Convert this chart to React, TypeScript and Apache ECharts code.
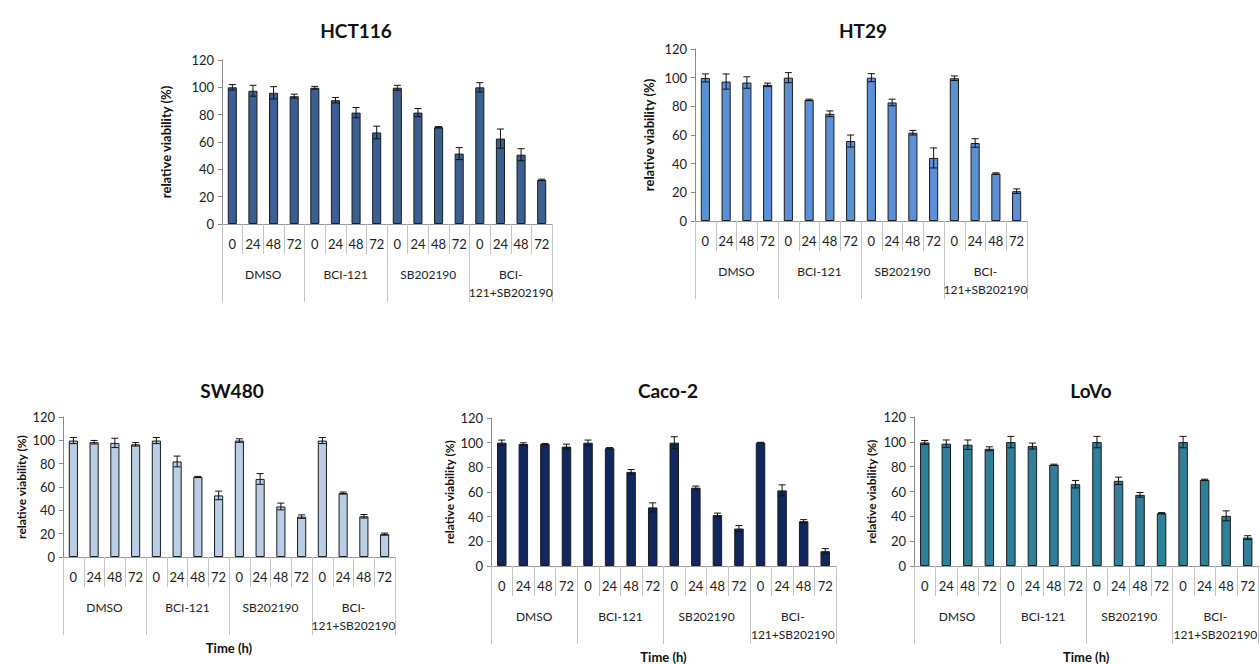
import React, { useEffect, useRef } from "react";
import * as echarts from "echarts";

const timeLabels = ["0", "24", "48", "72"];
const groupLabels = ["DMSO", "BCI-121", "SB202190", "BCI-\n121+SB202190"];
const yTicks = { min: 0, max: 120, interval: 20 };

const panelTitles = ["HCT116", "HT29", "SW480", "Caco-2", "LoVo"];
const panelColors = ["#3b5f90", "#5b8fd6", "#b9cde5", "#10275e", "#2f7f98"];

const hct116Values = [100, 97.5, 96, 93.5, 99.7, 90.6, 81.5, 67, 99.7, 81.5, 70.8, 51.5, 100, 62.5, 50.7, 32.3];
const hct116Errors = [2, 4, 4.5, 1.5, 1, 2, 3.7, 4.6, 1.8, 3, 0.5, 4.4, 3.4, 7, 4.4, 0.5];
const ht29Values = [99.8, 97.3, 96.6, 95, 100, 84.5, 74.8, 55.8, 100, 82.7, 61.6, 44, 99.6, 54.4, 33.1, 20.8];
const ht29Errors = [2.8, 5.3, 4, 1.2, 3.5, 0.5, 2, 4.2, 2.8, 2.3, 1.6, 7, 1.6, 3, 0.5, 1.6];
const sw480Values = [99.8, 98.4, 97.8, 96.6, 99.8, 81.9, 68.6, 52.8, 99.8, 66.9, 43.3, 34.6, 99.8, 54.8, 34.9, 19.6];
const sw480Errors = [2.6, 1.5, 4, 1.5, 2.6, 4.6, 0.5, 3.7, 1.5, 4.6, 2.9, 1.5, 2.6, 0.9, 1.5, 0.9];
const caco2Values = [100, 98.9, 98.9, 96.8, 100, 95.5, 76.3, 47.5, 100, 63.5, 41.3, 30.4, 100, 61.3, 36.3, 12];
const caco2Errors = [2.1, 1, 0.5, 2, 2.1, 0.5, 1.9, 3.7, 4.8, 1.3, 1.6, 2.4, 0.3, 4.5, 1.3, 2.1];
const lovoValues = [99.5, 98.5, 97.7, 94.4, 99.8, 96.6, 81.5, 65.9, 99.8, 68.6, 57.3, 42.5, 99.8, 69.4, 40.4, 22.9];
const lovoErrors = [1.6, 3, 3.8, 1.6, 4.6, 2.4, 0.5, 3, 4.6, 3, 1.9, 0.5, 4.6, 0.5, 4, 1.5];

const allValues = [hct116Values, ht29Values, sw480Values, caco2Values, lovoValues];
const allErrors = [hct116Errors, ht29Errors, sw480Errors, caco2Errors, lovoErrors];

// layout (pixels)
const grids = [
  { left: 222, top: 60, width: 330, height: 164 },
  { left: 695, top: 49, width: 332, height: 172 },
  { left: 63, top: 417, width: 332, height: 140 },
  { left: 491, top: 418, width: 345, height: 150 },
  { left: 914, top: 417, width: 347, height: 149 },
];
const titlePos = [
  [351, 16],
  [858, 16],
  [227, 376],
  [663, 376],
  [1086, 376],
];
const yNameGap = [50, 40, 36, 36, 37];
const yNameSize = [13, 13, 12, 12, 12];
const showTimeName = [false, false, true, true, true];

const FONT = "Lato, 'Open Sans', sans-serif";

export default function App() {
  const ref = useRef<HTMLDivElement>(null);

  useEffect(() => {
    if (!ref.current) return;
    const chart = echarts.init(ref.current, undefined, { renderer: "svg" });
    const categories: string[] = [];
    groupLabels.forEach(() => timeLabels.forEach((t) => categories.push(t)));

    const xAxes: any[] = [];
    const yAxes: any[] = [];
    const series: any[] = [];
    const titles: any[] = [];

    grids.forEach((g, i) => {
      titles.push({
        text: panelTitles[i],
        left: titlePos[i][0],
        top: titlePos[i][1],
        textAlign: "center",
        textStyle: { fontFamily: FONT, fontWeight: "bold", fontSize: 19, color: "#111" },
      });
      xAxes.push({
        type: "category",
        gridIndex: i,
        data: categories,
        position: "bottom",
        axisLine: { show: true, lineStyle: { color: "#9a9a9a", width: 1 } },
        axisTick: { show: true, length: 30, interval: 0, lineStyle: { color: "#c4c4c4" } },
        axisLabel: { interval: 0, margin: 13, fontFamily: FONT, fontSize: 13, color: "#222" },
      });
      xAxes.push({
        type: "category",
        gridIndex: i,
        data: groupLabels,
        position: "bottom",
        axisLine: { show: false },
        axisTick: { show: true, length: 78, interval: 0, lineStyle: { color: "#c4c4c4" } },
        axisLabel: {
          interval: 0,
          margin: 41,
          fontFamily: FONT,
          fontSize: 12,
          lineHeight: 18,
          color: "#222",
        },
        name: showTimeName[i] ? "Time (h)" : "",
        nameLocation: "middle",
        nameGap: 84,
        nameTextStyle: { fontFamily: FONT, fontWeight: "bold", fontSize: 13, color: "#111" },
      });
      yAxes.push({
        type: "value",
        gridIndex: i,
        min: yTicks.min,
        max: yTicks.max,
        interval: yTicks.interval,
        axisLine: { show: true, lineStyle: { color: "#8a8a8a", width: 1 } },
        axisTick: { show: true, length: 4, lineStyle: { color: "#8a8a8a" } },
        splitLine: { show: false },
        axisLabel: { margin: 8, fontFamily: FONT, fontSize: 13, color: "#222" },
        name: "relative viability (%)",
        nameLocation: "middle",
        nameGap: yNameGap[i],
        nameTextStyle: { fontFamily: FONT, fontWeight: "bold", fontSize: yNameSize[i], color: "#111" },
      });
      series.push({
        type: "bar",
        xAxisIndex: 2 * i,
        yAxisIndex: i,
        data: allValues[i],
        barWidth: "44%",
        itemStyle: { color: panelColors[i], borderColor: "#1c1c1c", borderWidth: 1 },
      });
      series.push({
        type: "custom",
        xAxisIndex: 2 * i,
        yAxisIndex: i,
        data: allValues[i].map((v, k) => [k, v, allErrors[i][k]]),
        z: 10,
        renderItem: (params: any, api: any) => {
          const x = api.value(0);
          const v = api.value(1);
          const e = api.value(2);
          const top = api.coord([x, v + e]);
          const bot = api.coord([x, v - e]);
          const h = 3.5;
          const st = { stroke: "#111", lineWidth: 1 };
          return {
            type: "group",
            children: [
              { type: "line", shape: { x1: top[0], y1: top[1], x2: bot[0], y2: bot[1] }, style: st },
              { type: "line", shape: { x1: top[0] - h, y1: top[1], x2: top[0] + h, y2: top[1] }, style: st },
              { type: "line", shape: { x1: bot[0] - h, y1: bot[1], x2: bot[0] + h, y2: bot[1] }, style: st },
            ],
          };
        },
      });
    });

    chart.setOption({
      animation: false,
      backgroundColor: "#ffffff",
      title: titles,
      grid: grids.map((g) => ({ ...g, containLabel: false })),
      xAxis: xAxes,
      yAxis: yAxes,
      series,
    });
    return () => chart.dispose();
  }, []);

  return (
    <div
      ref={ref}
      style={{ position: "absolute", left: 0, top: 0, width: 1260, height: 664, background: "#fff" }}
    />
  );
}
